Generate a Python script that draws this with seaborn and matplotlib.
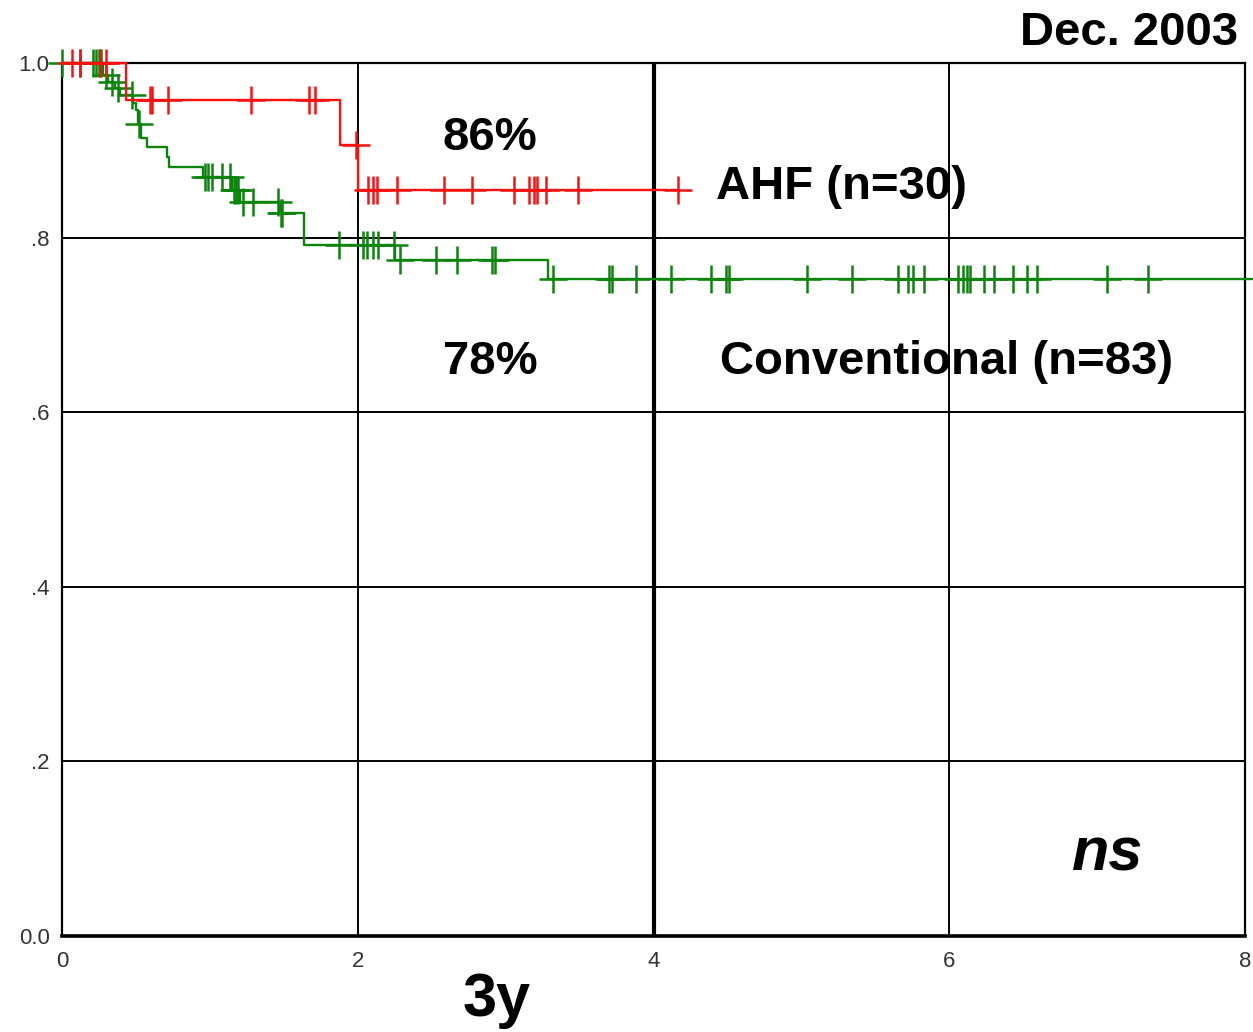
import numpy as np
import pandas as pd
import matplotlib
matplotlib.use("Agg")
import matplotlib.pyplot as plt
import seaborn as sns

# ---------------- data ----------------
# AHF group (n=30)
ahf_event_times = [0.43, 1.88, 2.00]
ahf_surv = [0.958, 0.906, 0.855]
ahf_censor_times = [0.068, 0.122, 0.26, 0.30,
                    0.595, 0.609, 0.717, 1.278, 1.670, 1.711,
                    1.99,
                    2.069, 2.103, 2.130, 2.265, 2.583, 2.773, 3.057, 3.158,
                    3.192, 3.212, 3.273, 3.489, 4.166]
ahf_end = 4.166

# Conventional group (n=83)
conv_event_times = [0.277, 0.311, 0.358, 0.392, 0.480, 0.500, 0.514, 0.534,
                    0.575, 0.710, 0.724, 0.953, 1.150, 1.204, 1.474, 1.637,
                    2.252, 3.287]
conv_surv = [0.986, 0.978, 0.971, 0.963, 0.954, 0.946, 0.930, 0.914,
             0.904, 0.892, 0.881, 0.869, 0.855, 0.841, 0.828, 0.792,
             0.774, 0.753]
conv_censor_times = [0.0, 0.122, 0.21, 0.23, 0.25, 0.265,
                     0.30, 0.34, 0.38, 0.47, 0.52,
                     0.967, 0.987, 1.014, 1.082, 1.136,
                     1.16, 1.18, 1.19, 1.224, 1.29, 1.46, 1.48, 1.49,
                     1.873, 2.035, 2.06, 2.103, 2.137, 2.245, 2.286,
                     2.529, 2.671, 2.91, 2.93,
                     3.320, 3.70, 3.72, 3.882, 4.118, 4.389, 4.49, 4.51,
                     5.038, 5.342, 5.653, 5.721, 5.755, 5.829,
                     6.059, 6.09, 6.12, 6.14, 6.235, 6.303, 6.431, 6.526,
                     6.593, 7.067, 7.344]
conv_end = 8.05

x_ticks = [0, 2, 4, 6, 8]
x_labels = ["0", "2", "4", "6", "8"]
y_ticks = [0.0, 0.2, 0.4, 0.6, 0.8, 1.0]
y_labels = ["0.0", ".2", ".4", ".6", ".8", "1.0"]

RED = "#ff1010"
GREEN = "#0a840a"


def step_frame(ev_t, ev_s, end, name):
    t = [0.0] + list(ev_t) + [end]
    s = [1.0] + list(ev_s) + [ev_s[-1]]
    return pd.DataFrame({"time": t, "surv": s, "group": name})


def censor_frame(ev_t, ev_s, cens, name):
    ev_t = np.asarray(ev_t)
    levels = np.concatenate([[1.0], ev_s])
    idx = np.searchsorted(ev_t, np.asarray(cens), side="right")
    return pd.DataFrame({"time": cens, "surv": levels[idx], "group": name})


ahf_line = step_frame(ahf_event_times, ahf_surv, ahf_end, "AHF")
conv_line = step_frame(conv_event_times, conv_surv, conv_end, "Conventional")
ahf_cens = censor_frame(ahf_event_times, ahf_surv, ahf_censor_times, "AHF")
conv_cens = censor_frame(conv_event_times, conv_surv, conv_censor_times, "Conventional")

# ---------------- figure ----------------
sns.set_style("white")
plt.rcParams["font.family"] = ["Liberation Sans", "DejaVu Sans"]

fig = plt.figure(figsize=(12.53, 10.32), dpi=100)
ax = fig.add_axes([62 / 1253, 1 - 936 / 1032, (1245 - 62) / 1253, (936 - 63) / 1032])

ax.set_xlim(0, 8)
ax.set_ylim(0, 1.0)

# grid
ax.set_xticks(x_ticks)
ax.set_yticks(y_ticks)
ax.set_yticks(np.arange(0.1, 1.0, 0.2), minor=True)
ax.grid(True, which="major", color="black", lw=1.4, zorder=1)
ax.axvline(4, color="black", lw=3.0, zorder=1)

# curves
sns.lineplot(data=conv_line, x="time", y="surv", ax=ax, color=GREEN, lw=1.7,
             drawstyle="steps-post", estimator=None, sort=False, legend=False,
             zorder=3, clip_on=False)
sns.scatterplot(data=conv_cens, x="time", y="surv", ax=ax, color=GREEN, marker="+",
                s=380, linewidth=1.8, legend=False, zorder=4, clip_on=False)
sns.lineplot(data=ahf_line, x="time", y="surv", ax=ax, color=RED, lw=1.7,
             drawstyle="steps-post", estimator=None, sort=False, legend=False,
             zorder=5, clip_on=False)
sns.scatterplot(data=ahf_cens, x="time", y="surv", ax=ax, color=RED, marker="+",
                s=380, linewidth=1.8, legend=False, zorder=6, clip_on=False)

# spines and ticks
for side in ["left", "right", "top"]:
    ax.spines[side].set_color("black")
    ax.spines[side].set_linewidth(1.6)
ax.spines["bottom"].set_color("black")
ax.spines["bottom"].set_linewidth(2.6)

ax.set_xticklabels(x_labels)
ax.set_yticklabels(y_labels)
ax.tick_params(axis="both", which="both", direction="out", length=7, width=1.5,
               color="black", labelsize=16, labelcolor="#333333")
ax.tick_params(axis="y", which="major", pad=2)
ax.tick_params(axis="x", which="major", pad=4)
ax.set_xlabel("")
ax.set_ylabel("")

# annotations
bold = dict(fontweight="bold", color="black", family=["Liberation Sans", "DejaVu Sans"])
ax.text(2.894, 0.914, "86%", fontsize=34, ha="center", va="center", **bold)
ax.text(4.42, 0.858, "AHF (n=30)", fontsize=34, ha="left", va="center", **bold)
ax.text(2.894, 0.657, "78%", fontsize=34, ha="center", va="center", **bold)
ax.text(4.45, 0.657, "Conventional (n=83)", fontsize=34, ha="left", va="center", **bold)
ax.text(6.83, 0.093, "ns", fontsize=44, ha="left", va="center", style="italic", **bold)
fig.text(0.988, 0.968, "Dec. 2003", fontsize=34, ha="right", va="center", **bold)
fig.text(0.396, 0.031, "3y", fontsize=44, ha="center", va="center", **bold)

fig.savefig("out.png", dpi=100)
